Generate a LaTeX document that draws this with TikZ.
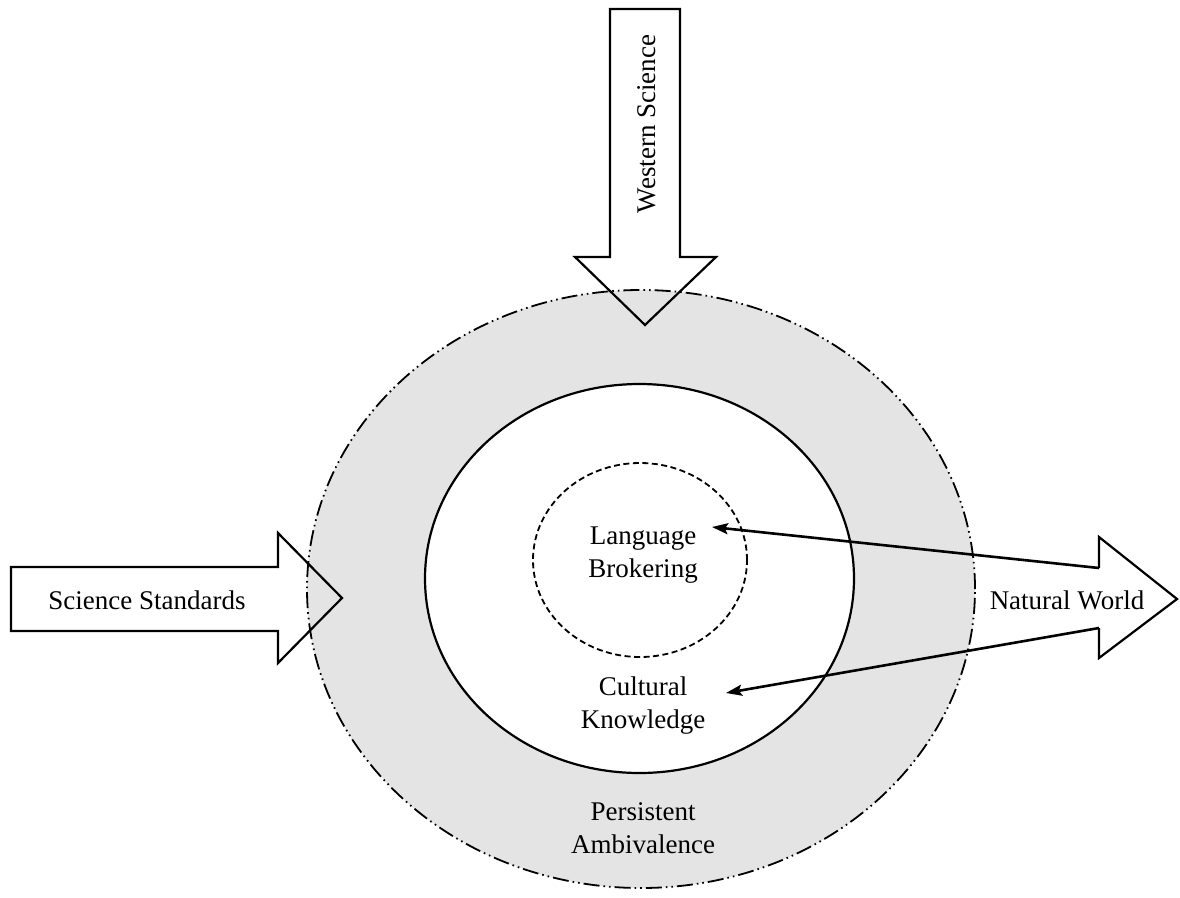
\documentclass[tikz,border=0pt]{standalone}
\usepackage{fontspec}
\setmainfont{Liberation Serif}
\usetikzlibrary{arrows.meta}
\begin{document}
\begin{tikzpicture}[x=1pt,y=-1pt,
  outerring/.style={fill=ringgray, line width=1.8pt,
    dash pattern=on 16pt off 4pt on 1.6pt off 4pt on 1.6pt off 4pt},
  innerring/.style={fill=white, line width=2.2pt},
  corering/.style={line width=1.8pt, dash pattern=on 6pt off 3.5pt},
  bigarrow/.style={line width=2.2pt, line join=miter},
  conn/.style={line width=2.6pt, -{Stealth[length=16pt, width=11pt, inset=3pt]}},
  lbl/.style={font=\fontsize{27}{33}\selectfont, align=center, inner sep=0pt}]
\definecolor{ringgray}{RGB}{228,228,228}
\useasboundingbox (0,0) rectangle (1180,897);
\fill[white] (0,0) rectangle (1180,897);
% rings
\draw[outerring] (641,589) ellipse [x radius=334pt, y radius=299pt];
\draw[innerring] (639.5,578.5) ellipse [x radius=214.5pt, y radius=194.5pt];
\draw[corering] (640,560) ellipse [x radius=107pt, y radius=97pt];
% big arrows
\draw[bigarrow] (610,9) -- (680,9) -- (680,257) -- (716,257) -- (645,325) -- (575,257) -- (610,257) -- cycle;
\draw[bigarrow] (11,567) -- (278,567) -- (278,533) -- (342,598) -- (278,663) -- (278,631) -- (11,631) -- cycle;
\coordinate (nwTop) at (1099,568);
\coordinate (nwBot) at (1099,628);
\draw[bigarrow] (nwTop) -- (1099,537) -- (1177,599) -- (1099,658) -- (nwBot);
% labels
\node[lbl, rotate=90] (west) at (647,124) {Western Science};
\node[lbl] (std) at (147,600) {Science Standards};
\node[lbl] (nat) at (1067,600) {Natural World};
\node[lbl] (lang) at (643,555) {Language\\Brokering};
\node[lbl] (cult) at (643,706) {Cultural\\Knowledge};
\node[lbl] (amb) at (643,828) {Persistent\\Ambivalence};
% connectors
\coordinate (lbTip) at (712,527);
\coordinate (ckTip) at (726,693);
\draw[conn] (nwTop) -- (lbTip);
\draw[conn] (nwBot) -- (ckTip);
\end{tikzpicture}
\end{document}
